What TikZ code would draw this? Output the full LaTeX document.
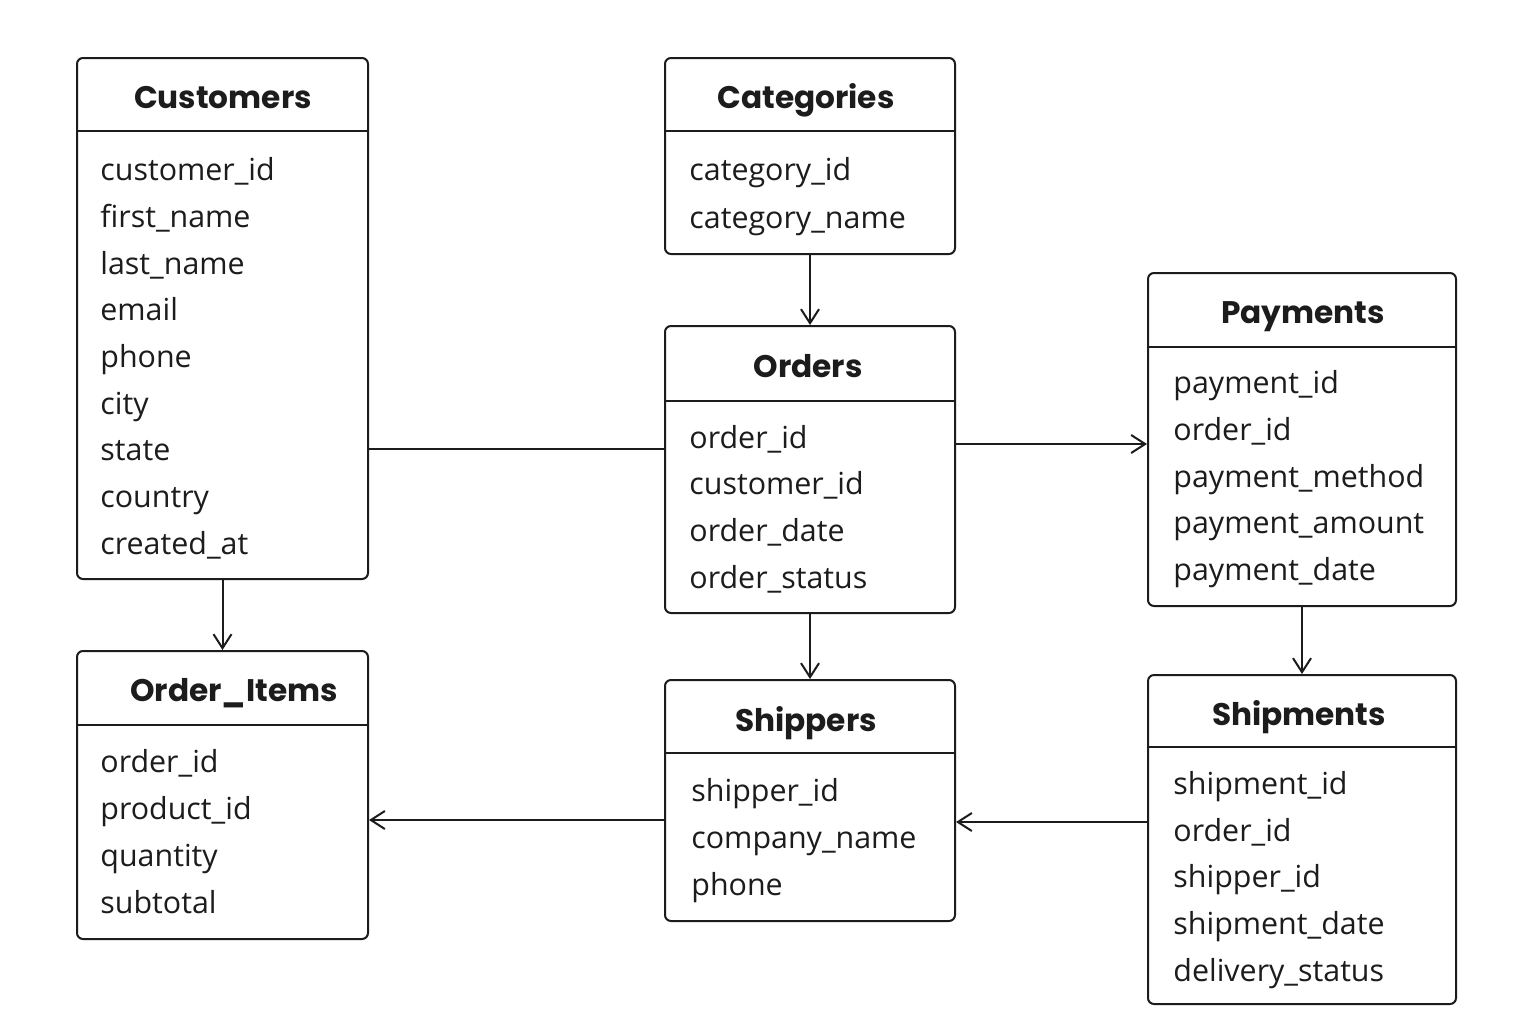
\documentclass[tikz,border=0pt]{standalone}
\usepackage{fontspec}
\setmainfont{Open Sans}
\newfontfamily\titlefont{Poppins}
\usetikzlibrary{arrows.meta,fit}
\definecolor{ink}{HTML}{1C1C1C}
\tikzset{
  tbl/.style={draw=ink, line width=1pt, rounded corners=3pt, inner sep=0pt},
  sepline/.style={draw=ink, line width=1pt},
  conn/.style={draw=ink, line width=1pt},
  arr/.style={conn, -{Straight Barb[length=7pt,width=9pt,line width=1pt]}},
  ttl/.style={anchor=base, font=\titlefont\bfseries\fontsize{15.6}{18}\selectfont, text=ink, inner sep=0pt},
  fld/.style={anchor=base west, font=\fontsize{15.2}{18}\selectfont, text=ink, inner sep=0pt}
}
\begin{document}
\begin{tikzpicture}[x=0.5pt,y=-0.5pt]
\useasboundingbox[fill=white] (0,0) rectangle (1536,1024);

% Customers
\node[tbl, fit={(77,58) (368,579)}] (cust) {};
\draw[sepline] (cust.west |- 0,131) -- (cust.east |- 0,131);
\node[ttl] (custT) at (223,108) {Customers};
\node[fld] (c1) at (100,180) {customer\_id};
\node[fld] (c2) at (100,227) {first\_name};
\node[fld] (c3) at (100,274) {last\_name};
\node[fld] (c4) at (100,320) {email};
\node[fld] (c5) at (100,367) {phone};
\node[fld] (c6) at (100,414) {city};
\node[fld] (c7) at (100,460) {state};
\node[fld] (c8) at (100,507) {country};
\node[fld] (c9) at (100,554) {created\_at};

% Categories
\node[tbl, fit={(665,58) (955,254)}] (cat) {};
\draw[sepline] (cat.west |- 0,131) -- (cat.east |- 0,131);
\node[ttl] (catT) at (806,108) {Categories};
\node[fld] (k1) at (689,180) {category\_id};
\node[fld] (k2) at (689,228) {category\_name};

% Orders
\node[tbl, fit={(665,326) (955,613)}] (ord) {};
\draw[sepline] (ord.west |- 0,401) -- (ord.east |- 0,401);
\node[ttl] (ordT) at (808,377) {Orders};
\node[fld] (o1) at (689,448) {order\_id};
\node[fld] (o2) at (689,494) {customer\_id};
\node[fld] (o3) at (689,541) {order\_date};
\node[fld] (o4) at (689,588) {order\_status};

% Payments
\node[tbl, fit={(1148,273) (1456,606)}] (pay) {};
\draw[sepline] (pay.west |- 0,347) -- (pay.east |- 0,347);
\node[ttl] (payT) at (1303,323) {Payments};
\node[fld] (p1) at (1173,393) {payment\_id};
\node[fld] (p2) at (1173,440) {order\_id};
\node[fld] (p3) at (1173,487) {payment\_method};
\node[fld] (p4) at (1173,533) {payment\_amount};
\node[fld] (p5) at (1173,580) {payment\_date};

% Order_Items
\node[tbl, fit={(77,651) (368,939)}] (oi) {};
\draw[sepline] (oi.west |- 0,725) -- (oi.east |- 0,725);
\node[ttl] (oiT) at (234,701) {Order\_Items};
\node[fld] (i1) at (100,772) {order\_id};
\node[fld] (i2) at (100,819) {product\_id};
\node[fld] (i3) at (100,866) {quantity};
\node[fld] (i4) at (100,913) {subtotal};

% Shippers
\node[tbl, fit={(665,680) (955,921)}] (shp) {};
\draw[sepline] (shp.west |- 0,753) -- (shp.east |- 0,753);
\node[ttl] (shpT) at (806,731) {Shippers};
\node[fld] (s1) at (691,801) {shipper\_id};
\node[fld] (s2) at (691,848) {company\_name};
\node[fld] (s3) at (691,895) {phone};

% Shipments
\node[tbl, fit={(1148,675) (1456,1004)}] (smt) {};
\draw[sepline] (smt.west |- 0,747) -- (smt.east |- 0,747);
\node[ttl] (smtT) at (1299,725) {Shipments};
\node[fld] (m1) at (1173,794) {shipment\_id};
\node[fld] (m2) at (1173,841) {order\_id};
\node[fld] (m3) at (1173,887) {shipper\_id};
\node[fld] (m4) at (1173,934) {shipment\_date};
\node[fld] (m5) at (1173,981) {delivery\_status};

% Connectors
\draw[arr] (cat.south) -- (ord.north);
\draw[conn] (cust.east |- 0,449) -- (ord.west |- 0,449);
\draw[arr] (ord.east |- 0,444) -- (pay.west |- 0,444);
\draw[arr] (cust.south) -- (oi.north);
\draw[arr] (ord.south) -- (shp.north);
\draw[arr] (pay.south) -- (smt.north);
\draw[arr] (shp.west |- 0,820) -- (oi.east |- 0,820);
\draw[arr] (smt.west |- 0,822) -- (shp.east |- 0,822);
\end{tikzpicture}
\end{document}
